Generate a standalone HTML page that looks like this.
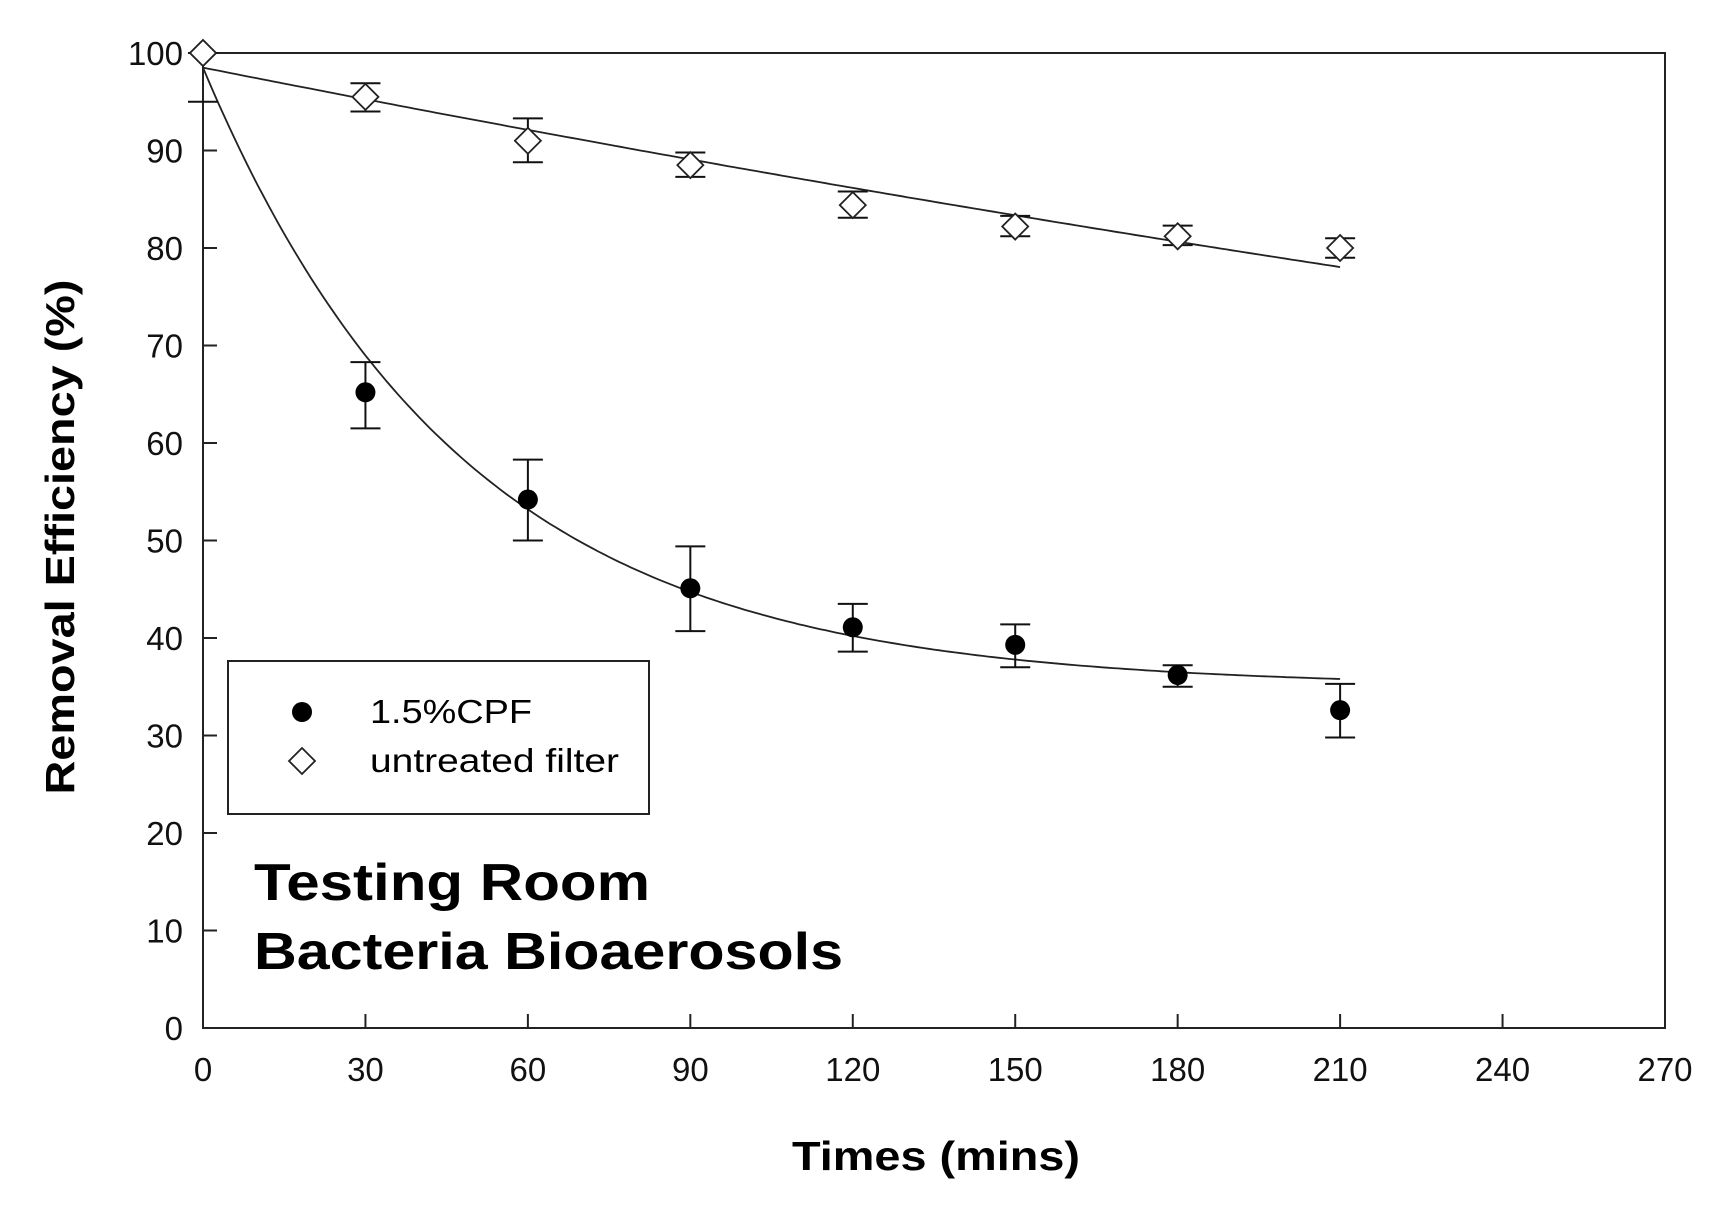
<!DOCTYPE html>
<html><head><meta charset="utf-8"><style>
html,body{margin:0;padding:0;background:#fff;}
svg{display:block;font-family:"Liberation Sans",Arial,sans-serif;}
</style></head><body>
<svg id="chart" width="1717" height="1212"></svg>
<script>
const xTicks=[0,30,60,90,120,150,180,210,240,270];
const yTicks=[0,10,20,30,40,50,60,70,80,90,100];
const times=[0,30,60,90,120,150,180,210];
const cpfVals=[100,65.2,54.2,45.1,41.1,39.3,36.2,32.6];
const cpfLow=[95,61.5,50,40.7,38.6,37,35,29.8];
const cpfHigh=[100,68.3,58.3,49.4,43.5,41.4,37.2,35.3];
const untVals=[100,95.5,91,88.5,84.4,82.2,81.2,80];
const untLow=[100,94,88.8,87.3,83.1,81.2,80.3,79];
const untHigh=[100,96.9,93.3,89.8,85.8,83.3,82.3,81];
const cpfFit=[35,63.5,48];
const untFit=[98.5,-0.11,0.00006];
const NS="http://www.w3.org/2000/svg";
const svg=document.getElementById('chart');
const L=203,R=1665,T=53,B=1028;
const X=v=>L+v*(R-L)/270, Y=v=>B-v*(B-T)/100;
function mk(tag,attrs,parent){const e=document.createElementNS(NS,tag);for(const k in attrs)e.setAttribute(k,attrs[k]);(parent||svg).appendChild(e);return e;}
function txt(s,attrs){const e=mk('text',attrs);e.textContent=s;return e;}
const frame=mk('rect',{x:L,y:T,width:R-L,height:B-T,fill:'none',stroke:'#222','stroke-width':2});


xTicks.forEach(v=>{
 const t=mk('line',{x1:X(v),x2:X(v),y1:B,y2:B-14,stroke:'#222','stroke-width':2});
 
 
 const l=txt(v,{x:X(v),y:1081,'font-size':33,'text-anchor':'middle',fill:'#111'});
 
 
});
yTicks.forEach(v=>{
 const t=mk('line',{x1:L,x2:L+14,y1:Y(v),y2:Y(v),stroke:'#222','stroke-width':2});
 
 
 const l=txt(v,{x:183,y:Y(v)+12,'font-size':33,'text-anchor':'end',fill:'#111'});
 
 
});
const xt=txt('Times (mins)',{x:936,y:1170,'font-size':41,'font-weight':'bold','text-anchor':'middle',textLength:288,lengthAdjust:'spacingAndGlyphs'});


const yt=txt('Removal Efficiency (%)',{x:0,y:0,'font-size':41,'font-weight':'bold','text-anchor':'middle',textLength:515,lengthAdjust:'spacingAndGlyphs',transform:'translate(74,537) rotate(-90)'});


let d1='',d2='';
for(let t=0;t<=210;t+=1){
 const c=cpfFit[0]+cpfFit[1]*Math.exp(-t/cpfFit[2]);
 const u=untFit[0]+untFit[1]*t+untFit[2]*t*t;
 d1+=(t?'L':'M')+X(t).toFixed(1)+','+Y(c).toFixed(1);
 d2+=(t?'L':'M')+X(t).toFixed(1)+','+Y(u).toFixed(1);
}
const f1=mk('path',{d:d1,fill:'none',stroke:'#222','stroke-width':1.8});


const f2=mk('path',{d:d2,fill:'none',stroke:'#222','stroke-width':1.8});


function err(t,lo,hi,name){
 const g=mk('g',{stroke:'#111','stroke-width':2});
 
 
 mk('line',{x1:X(t),x2:X(t),y1:Y(lo),y2:Y(hi)},g);
 mk('line',{x1:X(t)-15,x2:X(t)+15,y1:Y(lo),y2:Y(lo)},g);
 mk('line',{x1:X(t)-15,x2:X(t)+15,y1:Y(hi),y2:Y(hi)},g);
}
times.forEach((t,i)=>{
 err(t,untLow[i],untHigh[i],'untreated-error-bar');
 const dx=X(t),dy=Y(untVals[i]);
 const p=mk('polygon',{points:`${dx},${dy-13} ${dx+13},${dy} ${dx},${dy+13} ${dx-13},${dy}`,fill:'#fff',stroke:'#222','stroke-width':1.8});
 
 
});
times.forEach((t,i)=>{
 if(i>0){
 err(t,cpfLow[i],cpfHigh[i],'cpf-error-bar');
 const c=mk('circle',{cx:X(t),cy:Y(cpfVals[i]),r:10,fill:'#000'});
 
 
 } else {
 const tk=mk('line',{x1:X(0)-15,x2:X(0)+15,y1:Y(cpfLow[0]),y2:Y(cpfLow[0]),stroke:'#111','stroke-width':2});
 
 
 }
});
{const dx=X(0),dy=Y(untVals[0]);
 const p=mk('polygon',{points:`${dx},${dy-13} ${dx+13},${dy} ${dx},${dy+13} ${dx-13},${dy}`,fill:'#fff',stroke:'#222','stroke-width':1.8});
 
 }
const lg=mk('g',{});


mk('rect',{x:228,y:661,width:421,height:153,fill:'#fff',stroke:'#222','stroke-width':2},lg);
mk('circle',{cx:302,cy:712,r:10,fill:'#000'},lg);
const lt1=txt('1.5%CPF',{x:370,y:723,'font-size':33,textLength:162,lengthAdjust:'spacingAndGlyphs'});


mk('polygon',{points:'302,748 315,761 302,774 289,761',fill:'#fff',stroke:'#222','stroke-width':1.8},lg);
const lt2=txt('untreated filter',{x:370,y:772,'font-size':33,textLength:249,lengthAdjust:'spacingAndGlyphs'});


const a1=txt('Testing Room',{x:254,y:900,'font-size':52,'font-weight':'bold',textLength:396,lengthAdjust:'spacingAndGlyphs'});


const a2=txt('Bacteria Bioaerosols',{x:254,y:969,'font-size':52,'font-weight':'bold',textLength:589,lengthAdjust:'spacingAndGlyphs'});


</script>
</body></html>
